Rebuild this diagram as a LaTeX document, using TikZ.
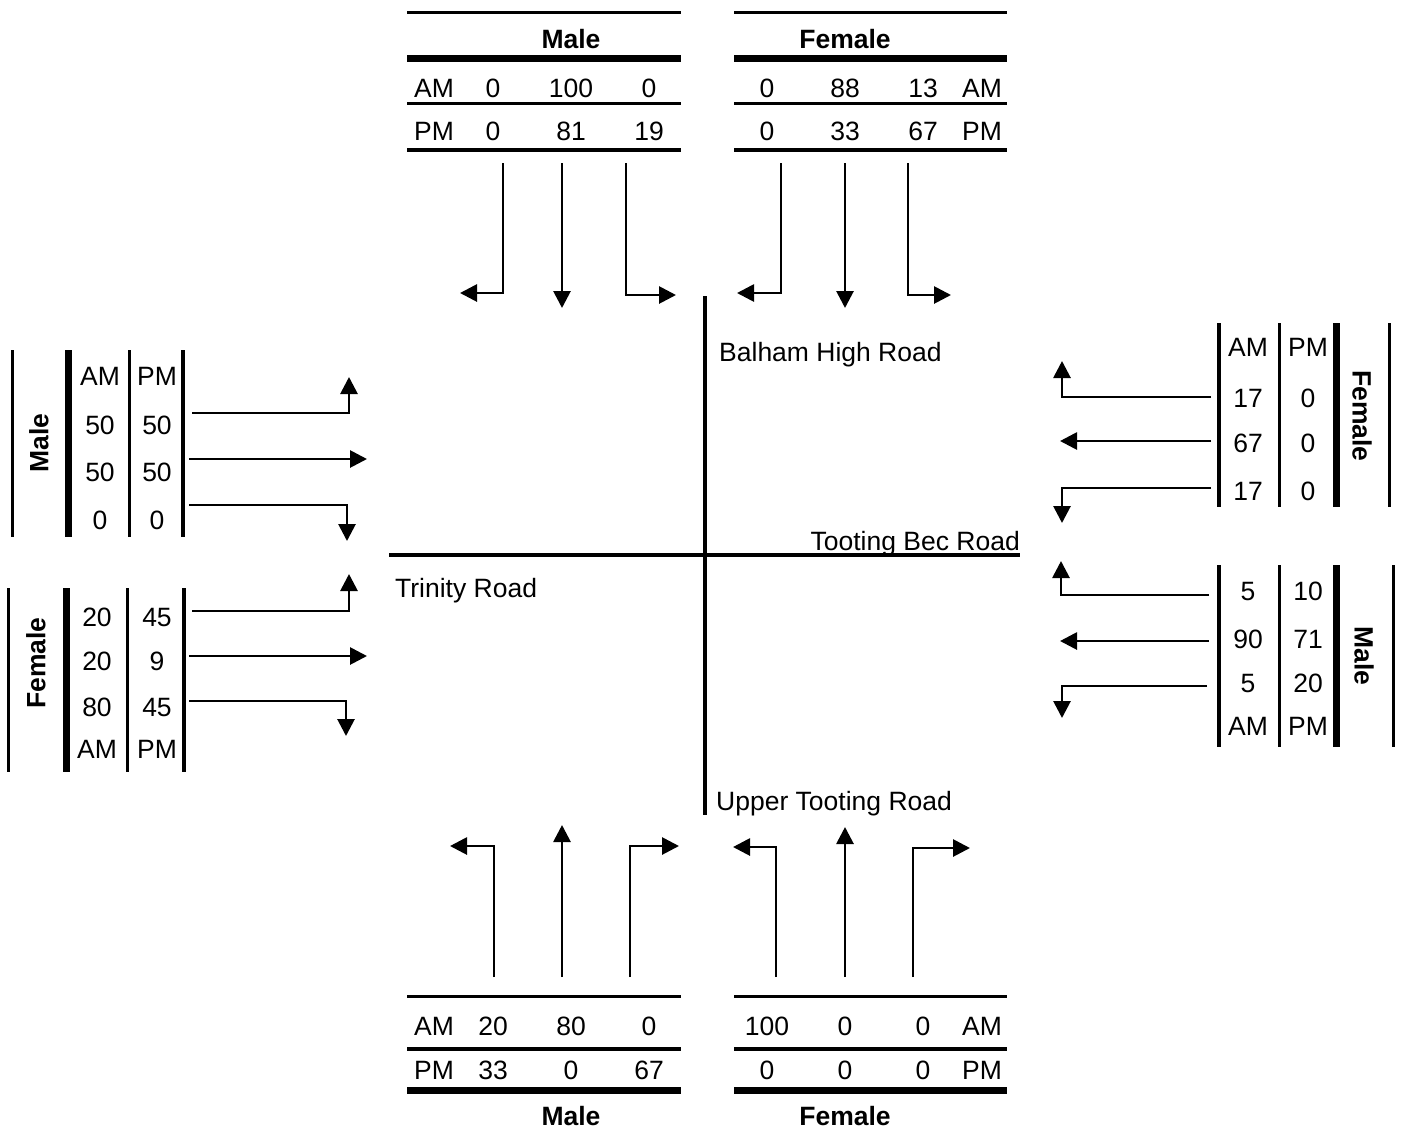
\documentclass[tikz,border=0pt]{standalone}
\usepackage{fontspec}
\setmainfont{Liberation Sans}
\usetikzlibrary{arrows.meta}
\newcommand{\turnarrow}[3]{% start, corner, tip
  \draw[leg] #1 -- #2;
  \draw[tip] #2 -- #3;}
\begin{document}
\begin{tikzpicture}[x=1pt,y=-1pt,
  every node/.style={font=\fontsize{26.5}{30}\selectfont, inner sep=0pt},
  hdr/.style={font=\fontsize{26.5}{30}\selectfont\bfseries},
  rd/.style={line width=4pt},
  leg/.style={line width=1.7pt},
  tip/.style={line width=2.8pt, line cap=rect, -{Triangle[length=17pt,width=17pt]}},
  thru/.style={line width=2.8pt, -{Triangle[length=17pt,width=17pt]}},
  rulethin/.style={line width=3pt},
  rulemid/.style={line width=4pt},
  rulethick/.style={line width=7pt}]
\useasboundingbox (0,0) rectangle (1402,1133);

% roads
\draw[rd] (705,296) -- (705,815);
\draw[rd] (389,555) -- (1020,555);
\node[anchor=base west] (balham) at (719,361.5) {Balham High Road};
\node[anchor=base east] (tooting) at (1020,550.5) {Tooting Bec Road};
\node[anchor=base west] (trinity) at (395,597.5) {Trinity Road};
\node[anchor=base west] (upper) at (716,810.5) {Upper Tooting Road};

% ---------- top tables ----------
\draw[rulethin] (407,12) -- (681,12);
\draw[rulethick] (407,58) -- (681,58);
\draw[rulethin] (407,103) -- (681,103);
\draw[rulemid] (407,150) -- (681,150);
\draw[rulethin] (734,12) -- (1007,12);
\draw[rulethick] (734,58) -- (1007,58);
\draw[rulethin] (734,103) -- (1007,103);
\draw[rulemid] (734,150) -- (1007,150);
\node[hdr,anchor=base] (tmh) at (571,48.5) {Male};
\node[hdr,anchor=base] (tfh) at (845,48.5) {Female};
\foreach[count=\i] \t/\x in {AM/434,0/493,100/571,0/649}
  \node[anchor=base] (tmA\i) at (\x,97.5) {\t};
\foreach[count=\i] \t/\x in {PM/434,0/493,81/571,19/649}
  \node[anchor=base] (tmP\i) at (\x,140.5) {\t};
\foreach[count=\i] \t/\x in {0/767,88/845,13/923,AM/982}
  \node[anchor=base] (tfA\i) at (\x,97.5) {\t};
\foreach[count=\i] \t/\x in {0/767,33/845,67/923,PM/982}
  \node[anchor=base] (tfP\i) at (\x,140.5) {\t};

% top arrows
\turnarrow{(503,163)}{(503,293)}{(460,293)}
\draw[thru] (562,163) -- (562,308);
\turnarrow{(626,163)}{(626,295)}{(676,295)}
\turnarrow{(781,163)}{(781,293)}{(737,293)}
\draw[thru] (845,163) -- (845,308);
\turnarrow{(908,163)}{(908,295)}{(951,295)}

% ---------- bottom tables ----------
\draw[rulethin] (407,996) -- (681,996);
\draw[rulemid] (407,1049) -- (681,1049);
\draw[rulethick] (407,1090) -- (681,1090);
\draw[rulethin] (734,996) -- (1007,996);
\draw[rulemid] (734,1049) -- (1007,1049);
\draw[rulethick] (734,1090) -- (1007,1090);
\node[hdr,anchor=base] (bmh) at (571,1125.5) {Male};
\node[hdr,anchor=base] (bfh) at (845,1125.5) {Female};
\foreach[count=\i] \t/\x in {AM/434,20/493,80/571,0/649}
  \node[anchor=base] (bmA\i) at (\x,1035.5) {\t};
\foreach[count=\i] \t/\x in {PM/434,33/493,0/571,67/649}
  \node[anchor=base] (bmP\i) at (\x,1079.5) {\t};
\foreach[count=\i] \t/\x in {100/767,0/845,0/923,AM/982}
  \node[anchor=base] (bfA\i) at (\x,1035.5) {\t};
\foreach[count=\i] \t/\x in {0/767,0/845,0/923,PM/982}
  \node[anchor=base] (bfP\i) at (\x,1079.5) {\t};

% bottom arrows
\turnarrow{(494,977)}{(494,846)}{(450,846)}
\draw[thru] (562,977) -- (562,825);
\turnarrow{(630,977)}{(630,846)}{(679,846)}
\turnarrow{(776,977)}{(776,847)}{(733,847)}
\draw[thru] (845,977) -- (845,827);
\turnarrow{(913,977)}{(913,848)}{(970,848)}

% ---------- left tables ----------
\draw[rulethin] (12,350) -- (12,537);
\draw[rulethick] (68,350) -- (68,537);
\draw[rulethin] (129,350) -- (129,537);
\draw[rulemid] (183,350) -- (183,537);
\node[hdr,rotate=90] (lmh) at (39,443) {Male};
\foreach[count=\i] \t/\y in {AM/385.5,50/434.5,50/481.5,0/529.5}
  \node[anchor=base] (lmA\i) at (100,\y) {\t};
\foreach[count=\i] \t/\y in {PM/385.5,50/434.5,50/481.5,0/529.5}
  \node[anchor=base] (lmP\i) at (157,\y) {\t};

\draw[rulethin] (8,588) -- (8,772);
\draw[rulethick] (66,588) -- (66,772);
\draw[rulethin] (127,588) -- (127,772);
\draw[rulemid] (184,588) -- (184,772);
\node[hdr,rotate=90] (lfh) at (36,663) {Female};
\foreach[count=\i] \t/\y in {20/626.5,20/670.5,80/716.5,AM/758.5}
  \node[anchor=base] (lfA\i) at (97,\y) {\t};
\foreach[count=\i] \t/\y in {45/626.5,9/670.5,45/716.5,PM/758.5}
  \node[anchor=base] (lfP\i) at (157,\y) {\t};

% left arrows
\turnarrow{(192,413)}{(349,413)}{(349,377)}
\draw[thru] (189,459) -- (367,459);
\turnarrow{(189,505)}{(347,505)}{(347,541)}
\turnarrow{(192,611)}{(349,611)}{(349,574)}
\draw[thru] (189,656) -- (367,656);
\turnarrow{(189,701)}{(346,701)}{(346,736)}

% ---------- right tables ----------
\draw[rulemid] (1219,323) -- (1219,507);
\draw[rulethin] (1279,323) -- (1279,507);
\draw[rulethick] (1336,323) -- (1336,507);
\draw[rulethin] (1389,323) -- (1389,507);
\node[hdr,rotate=-90] (rfh) at (1362,416) {Female};
\foreach[count=\i] \t/\y in {AM/356.5,17/407.5,67/452.5,17/500.5}
  \node[anchor=base] (rfA\i) at (1248,\y) {\t};
\foreach[count=\i] \t/\y in {PM/356.5,0/407.5,0/452.5,0/500.5}
  \node[anchor=base] (rfP\i) at (1308,\y) {\t};

\draw[rulemid] (1219,565) -- (1219,747);
\draw[rulethin] (1279,565) -- (1279,747);
\draw[rulethick] (1336,565) -- (1336,747);
\draw[rulethin] (1393,565) -- (1393,747);
\node[hdr,rotate=-90] (rmh) at (1364,656) {Male};
\foreach[count=\i] \t/\y in {5/600.5,90/648.5,5/692.5,AM/735.5}
  \node[anchor=base] (rmA\i) at (1248,\y) {\t};
\foreach[count=\i] \t/\y in {10/600.5,71/648.5,20/692.5,PM/735.5}
  \node[anchor=base] (rmP\i) at (1308,\y) {\t};

% right arrows
\turnarrow{(1211,397)}{(1062,397)}{(1062,361)}
\draw[thru] (1211,441) -- (1060,441);
\turnarrow{(1211,488)}{(1062,488)}{(1062,523)}
\turnarrow{(1209,595)}{(1061,595)}{(1061,561)}
\draw[thru] (1209,641) -- (1060,641);
\turnarrow{(1207,686)}{(1062,686)}{(1062,718)}
\end{tikzpicture}
\end{document}
